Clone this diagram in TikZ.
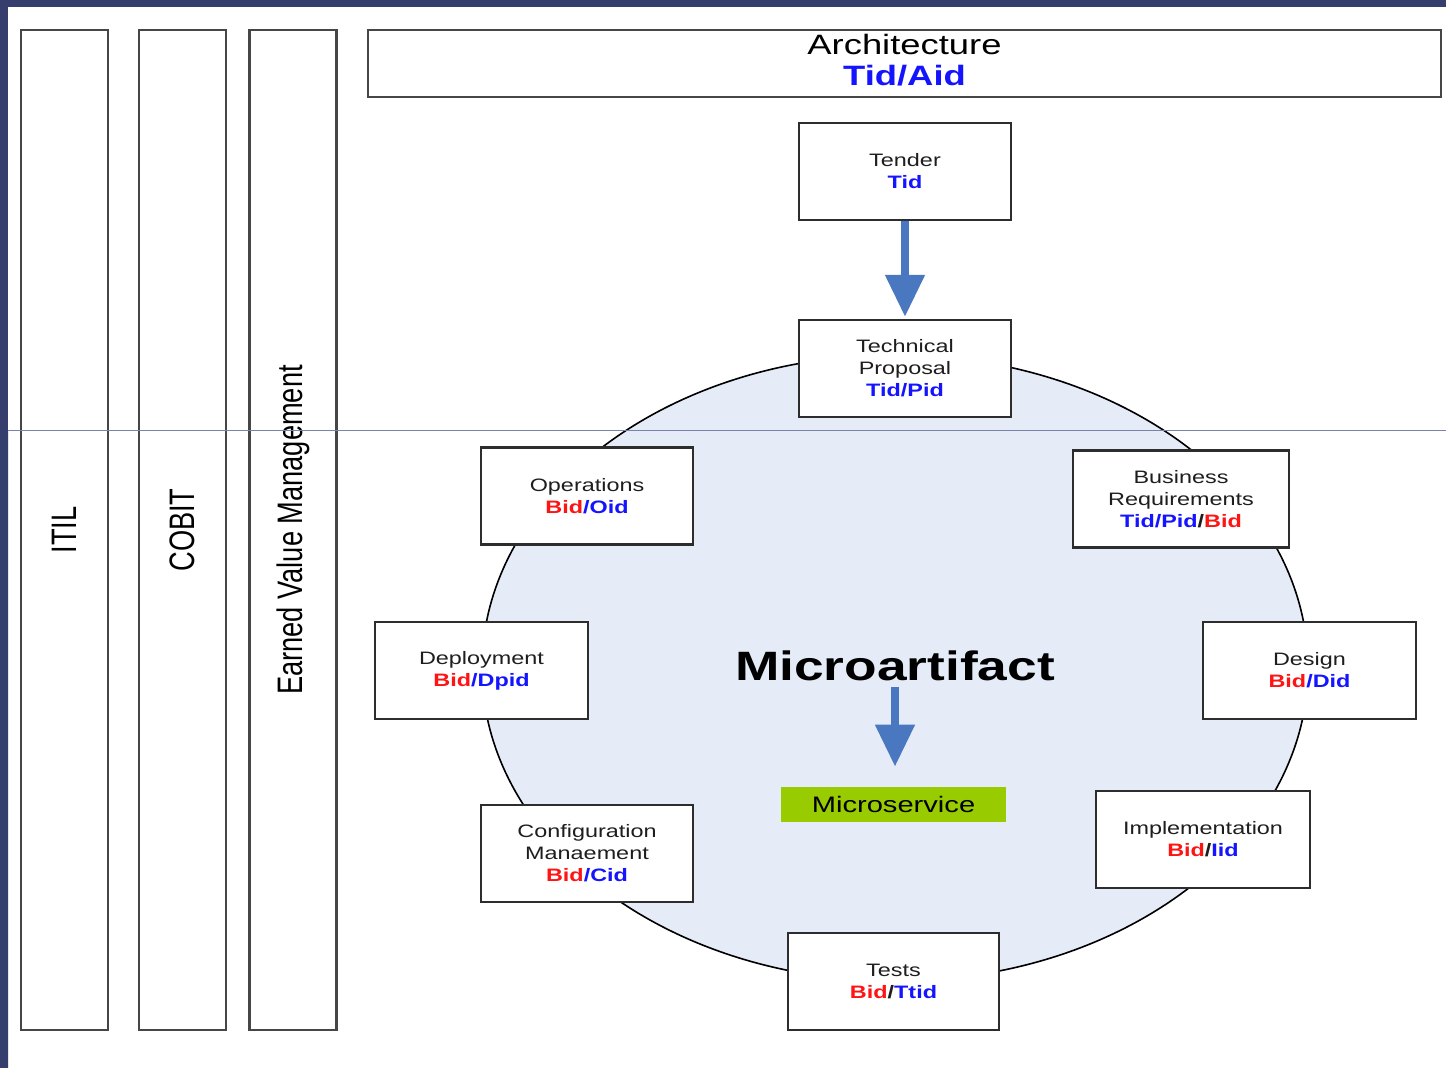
\documentclass[tikz,border=0pt]{standalone}
\usepackage{fontspec}
\setmainfont{Liberation Sans}
\newfontfamily\widefont[FakeStretch=1.3]{Liberation Sans}
\newfontfamily\narrowfont[FakeStretch=0.77]{Liberation Sans}
\usetikzlibrary{arrows.meta}
\definecolor{navy}{RGB}{54,62,110}
\definecolor{stripblue}{RGB}{95,135,195}
\definecolor{guide}{RGB}{120,130,170}
\definecolor{boxline}{RGB}{45,45,45}
\definecolor{colline}{RGB}{70,70,70}
\definecolor{labelgray}{RGB}{30,30,30}
\definecolor{idblue}{RGB}{20,20,255}
\definecolor{idred}{RGB}{255,20,20}
\definecolor{arrowblue}{RGB}{74,120,192}
\definecolor{ellfill}{RGB}{230,236,247}
\definecolor{msgreen}{RGB}{153,204,0}
\newcommand{\bl}[1]{\textcolor{idblue}{\bfseries #1}}
\newcommand{\rd}[1]{\textcolor{idred}{\bfseries #1}}
\newcommand{\slsh}{\textcolor{labelgray}{\bfseries /}}
\tikzset{
  box/.style={draw=boxline, line width=1.2pt, fill=white, minimum width=106pt,
    minimum height=48.5pt, inner sep=0pt, align=center, text=labelgray,
    font=\widefont\fontsize{9}{11}\selectfont},
  colbox/.style={draw=colline, line width=1.4pt, fill=white, rotate=90,
    minimum width=500pt, minimum height=43.5pt, inner sep=0pt,
    font=\narrowfont\fontsize{17.7}{20}\selectfont},
  bigarrow/.style={draw=arrowblue, line width=4pt,
    -{Triangle[width=19pt,length=21pt]}}
}
\begin{document}
\begin{tikzpicture}[x=0.5pt,y=-0.5pt]
\useasboundingbox (0,0) rectangle (1446,1067);
% slide background
\fill[white] (0,0) rectangle (1446,1067);
\fill[navy] (0,0) rectangle (1446,7);
\fill[navy] (0,0) rectangle (8,1067);
\shade[top color=navy, middle color=stripblue, bottom color=navy] (0,430) rectangle (8,1067);
% side columns
\node[colbox] (itil) at (64.5,530) {ITIL};
\node[colbox] (cobit) at (182.5,530) {COBIT};
\node[colbox] (evm) at (293,530) {Earned Value Management};
% architecture
\node[draw=colline, line width=1.4pt, fill=white, minimum width=536.5pt,
  minimum height=33.5pt, inner sep=0pt,
  label={[name=archtext, align=center, inner sep=0pt, yshift=1.5pt,
    font=\widefont\fontsize{14}{15.5}\selectfont]center:Architecture\\ \bl{Tid/Aid}}]
  (arch) at (904.5,63.5) {};
% central ellipse
\draw[fill=ellfill, draw=black, line width=0.8pt] (895,668) ellipse [x radius=413, y radius=313];
% centre texts
\node[font=\widefont\bfseries\fontsize{20.5}{24}\selectfont, inner sep=2pt] (ma) at (895,666) {Microartifact};
\node[fill=msgreen, minimum width=112.5pt, minimum height=17.5pt, inner sep=0pt,
  font=\widefont\fontsize{11.2}{13}\selectfont] (ms) at (893.5,804.5) {Microservice};
\draw[bigarrow, shorten <=1pt, shorten >=10pt] (ma.south) -- (ma.south |- ms.north);
% boxes
\node[box] (tender) at (905,171.5) {Tender\\ \bl{Tid}};
\node[box] (tp) at (905,368.5) {Technical\\ Proposal\\ \bl{Tid/Pid}};
\node[box] (ops) at (587,496) {Operations\\ \rd{Bid}\bl{/Oid}};
\node[box, minimum width=108pt] (bus) at (1181,499) {Business\\ Requirements\\ \bl{Tid/Pid}\slsh\rd{Bid}};
\node[box, minimum width=106.5pt] (dep) at (481.5,670.5) {Deployment\\ \rd{Bid}\bl{/Dpid}};
\node[box, minimum width=106.5pt] (des) at (1309.5,670.5) {Design\\ \rd{Bid}\bl{/Did}};
\node[box] (cfg) at (587,853.5) {Configuration\\ Manaement\\ \rd{Bid}\bl{/Cid}};
\node[box, minimum width=107pt] (imp) at (1203,839.5) {Implementation\\ \rd{Bid}\slsh\bl{Iid}};
\node[box, minimum width=105.5pt] (tests) at (893.5,981.5) {Tests\\ \rd{Bid}\slsh\bl{Ttid}};
\draw[bigarrow, shorten >=1pt] (tender.south) -- (tp.north);
% thin guide line of the slide
\draw[guide, line width=0.5pt] (8,430) -- (1446,430);
\end{tikzpicture}
\end{document}
